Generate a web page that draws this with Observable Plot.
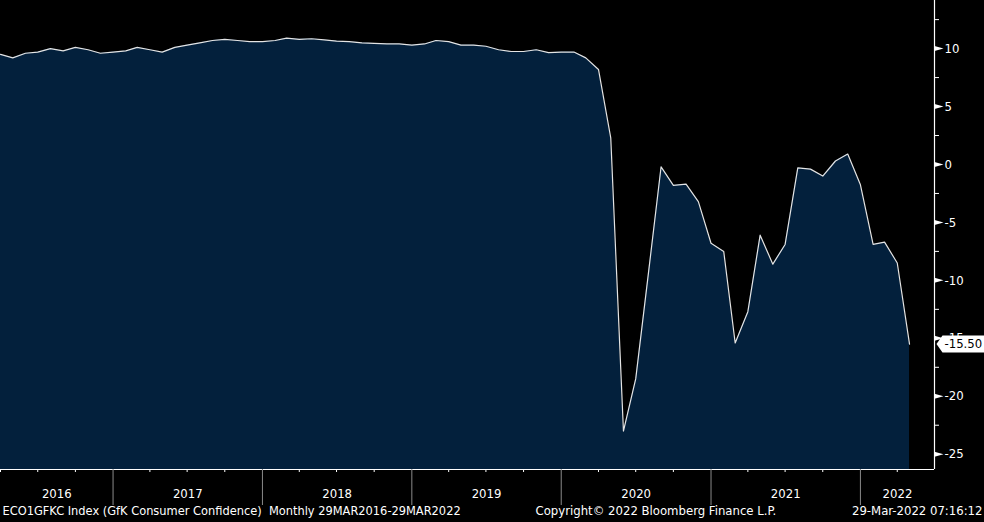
<!DOCTYPE html>
<html>
<head>
<meta charset="utf-8">
<script src="https://cdn.jsdelivr.net/npm/d3@7"></script>
<script src="https://cdn.jsdelivr.net/npm/@observablehq/plot@0.6"></script>
<style>
html, body { margin: 0; padding: 0; background: #000; }
#chart svg { display: block; }
</style>
</head>
<body>
<div id="chart"></div>
<script>
// ---- Data (GfK Consumer Confidence, monthly, Mar 2016 .. Apr 2022) ----
const startYear = 2016;
const startMonthIndex = 2; // March
const values = [
  9.5, 9.2, 9.6, 9.7, 10.0, 9.8, 10.1, 9.9, 9.6, 9.7,            // 2016 Mar-Dec
  9.8, 10.1, 9.9, 9.7, 10.1, 10.3, 10.5, 10.7, 10.8, 10.7, 10.6, 10.6, // 2017
  10.7, 10.9, 10.8, 10.85, 10.75, 10.65, 10.6, 10.5, 10.45, 10.4, 10.4, 10.3, // 2018
  10.4, 10.7, 10.6, 10.3, 10.3, 10.2, 9.9, 9.75, 9.75, 9.9, 9.65, 9.7, // 2019
  9.7, 9.2, 8.2, 2.3, -23.0, -18.5, -9.4, -0.2, -1.8, -1.7, -3.2, -6.8, // 2020
  -7.5, -15.4, -12.7, -6.1, -8.6, -6.9, -0.3, -0.4, -1.0, 0.3, 0.9, -1.75, // 2021
  -6.9, -6.7, -8.5, -15.5                                          // 2022 Jan-Apr
];
const yearLabels = ["2016", "2017", "2018", "2019", "2020", "2021", "2022"];
const yTicks = [10, 5, 0, -5, -10, -15, -20, -25];
const yMinorTicks = [12.5, 7.5, 2.5, -2.5, -7.5, -12.5, -17.5, -22.5];
const lastValueLabel = "-15.50";
const footerLeft = "ECO1GFKC Index (GfK Consumer Confidence)  Monthly 29MAR2016-29MAR2022";
const footerMid = "Copyright\u00A9 2022 Bloomberg Finance L.P.";
const footerRight = "29-Mar-2022 07:16:12";

// ---- Build table ----
const start = new Date(Date.UTC(startYear, startMonthIndex, 1));
// each monthly value is drawn at the end of its month
const data = values.map((v, i) => ({date: d3.utcMonth.offset(start, i + 1), value: v}));

const xDomain = [new Date(Date.UTC(2016, 3, 1)), new Date(Date.UTC(2022, 6, 1))];
const yDomain = [-26.32, 14.15];
const xMax = xDomain[1];

const W = 984, H = 522;
const mRight = 50, mBottom = 53;
const frameH = H - mBottom;
const frameW = W - mRight;

const yearStarts = yearLabels.slice(1).map(y => new Date(Date.UTC(+y, 0, 1)));
const yearMids = yearLabels.map(y => {
  const s = Math.max(Date.UTC(+y, 0, 1), +xDomain[0]);
  const e = Math.min(Date.UTC(+y + 1, 0, 1), +xDomain[1]);
  return {date: new Date((s + e) / 2), label: y};
});
const quarterTicks = d3.utcMonth.every(3).range(xDomain[0], xDomain[1]).filter(d => d.getUTCMonth() !== 0);

const fmt = d => (d < 0 ? "-" : "") + Math.abs(d);

const tickSymbol = {
  draw(ctx) { ctx.moveTo(0, -2.5); ctx.lineTo(9, 0); ctx.lineTo(0, 2.5); ctx.closePath(); }
};
const labelSymbol = {
  draw(ctx) {
    ctx.moveTo(2, 0); ctx.lineTo(8, -8.5); ctx.lineTo(52, -8.5);
    ctx.lineTo(52, 8.5); ctx.lineTo(8, 8.5); ctx.closePath();
  }
};
const last = data[data.length - 1];

const font = "'DejaVu Sans Condensed', 'DejaVu Sans', sans-serif";

const chart = Plot.plot({
  width: W,
  height: H,
  marginLeft: 0,
  marginRight: mRight,
  marginTop: 0,
  marginBottom: mBottom,
  style: {background: "#000", color: "#fff", fontFamily: font, fontSize: "13px", fontStretch: "condensed"},
  x: {type: "utc", domain: xDomain, axis: null},
  y: {domain: yDomain, axis: null},
  marks: [
    Plot.areaY(data, {x: "date", y1: yDomain[0], y2: "value", fill: "#03203c"}),
    Plot.lineY(data, {x: "date", y: "value", stroke: "#e4e4e4", strokeWidth: 1.2}),
    // axis lines
    Plot.ruleY([yDomain[0]], {stroke: "#fff", strokeWidth: 1.2}),
    Plot.ruleX([xMax], {stroke: "#fff", strokeWidth: 1.2}),
    // bottom axis: year separators, quarter ticks, labels
    Plot.ruleX(yearStarts, {x: d => d, stroke: "#8a8a8a", insetTop: frameH, insetBottom: -36}),
    Plot.ruleX(quarterTicks, {x: d => d, stroke: "#fff", insetTop: frameH, insetBottom: -3}),
    Plot.text(yearMids, {x: "date", text: "label", frameAnchor: "bottom", dy: 28, fill: "#fff"}),
    // right axis
    Plot.ruleY(yMinorTicks, {y: d => d, stroke: "#fff", insetLeft: frameW, insetRight: -5}),
    Plot.dot(yTicks, {x: () => xMax, y: d => d, symbol: tickSymbol, r: 3, fill: "#fff", stroke: null}),
    Plot.text(yTicks, {x: () => xMax, y: d => d, text: fmt, dx: 10, textAnchor: "start", fill: "#fff"}),
    // last value label
    Plot.dot([last], {x: () => xMax, y: "value", symbol: labelSymbol, r: 3, fill: "#fff", stroke: null}),
    Plot.text([last], {x: () => xMax, y: "value", text: () => lastValueLabel, dx: 10, textAnchor: "start", fill: "#000"}),
    // footer
    Plot.text([footerLeft], {text: d => d, frameAnchor: "bottom-left", dx: 2, dy: 45, textAnchor: "start", fill: "#fff", fontSize: 12.7}),
    Plot.text([footerMid], {text: d => d, frameAnchor: "bottom-left", dx: 535, dy: 45, textAnchor: "start", fill: "#fff"}),
    Plot.text([footerRight], {text: d => d, frameAnchor: "bottom-right", dx: 48, dy: 45, textAnchor: "end", fill: "#fff"})
  ]
});
document.getElementById("chart").appendChild(chart);
</script>
</body>
</html>
